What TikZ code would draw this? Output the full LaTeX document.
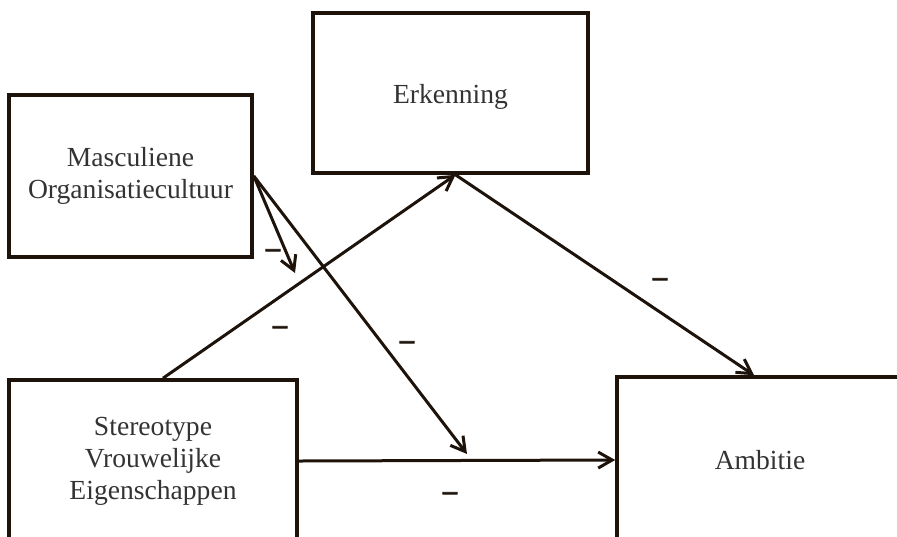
\documentclass[tikz,border=0pt]{standalone}
\usepackage{fontspec}
\setmainfont{Liberation Serif}
\newfontfamily\signfont[FakeBold=2.5]{Liberation Serif}
\usepackage{tikz}
\usetikzlibrary{positioning,arrows.meta,calc}

\begin{document}
\begin{tikzpicture}[
x=0.5pt,y=-0.5pt,
box/.style={
  draw=black!85!brown,
  line width=1.8pt,
  rectangle,
  align=center,
  text=black!80,
  font=\fontsize{13.8}{16}\selectfont
  },
link/.style={
  draw=black!85!brown,
  line width=1.5pt,
  ->
  },
minus/.style={
  inner sep=0pt,
  yshift=-1.5pt,
  text=black!85!brown,
  font=\fontsize{14}{16}\signfont\bfseries
  },
>={Straight Barb[length=7pt,width=8pt]}
]
\useasboundingbox (0,0) rectangle (897,536);
\clip (0,0) rectangle (897,536);

\node[box, minimum width=121.5pt, minimum height=81pt] at (130.5,176)
  (masc) {Masculiene\\Organisatiecultuur};
\node[box, minimum width=137.5pt, minimum height=80pt] at (450.5,93)
  (erk) {\raisebox{-5pt}[0pt][0pt]{Erkenning}};
\node[box, minimum width=144pt, minimum height=81pt] at (153,461)
  (stereo) {Stereotype\\Vrouwelijke\\Eigenschappen};
\node[box, minimum width=143pt, minimum height=83pt] at (760,460)
  (amb) {Ambitie};

% paden
\coordinate (s-top) at ($(stereo.north)+(10,0)$);
\coordinate (e-bot) at ($(erk.south)+(5,0)$);
\coordinate (a-top) at ($(amb.north)+(-6,0)$);
\draw[link] (s-top) -- (e-bot);
\draw[link] (e-bot) -- (a-top);
\draw[link] (stereo.east) -- (amb.west);

% moderatie
\coordinate (m1) at (295,273);
\coordinate (m2) at (467,454);
\draw[link] (masc.east) -- (m1);
\draw[link] (masc.east) -- (m2);

% tekens
\node[minus] (t1) at (273,250) {\textendash};
\node[minus] (t2) at (280,327) {\textendash};
\node[minus] (t3) at (407,342) {\textendash};
\node[minus] (t4) at (660,279) {\textendash};
\node[minus] (t5) at (450,493) {\textendash};
\end{tikzpicture}
\end{document}
